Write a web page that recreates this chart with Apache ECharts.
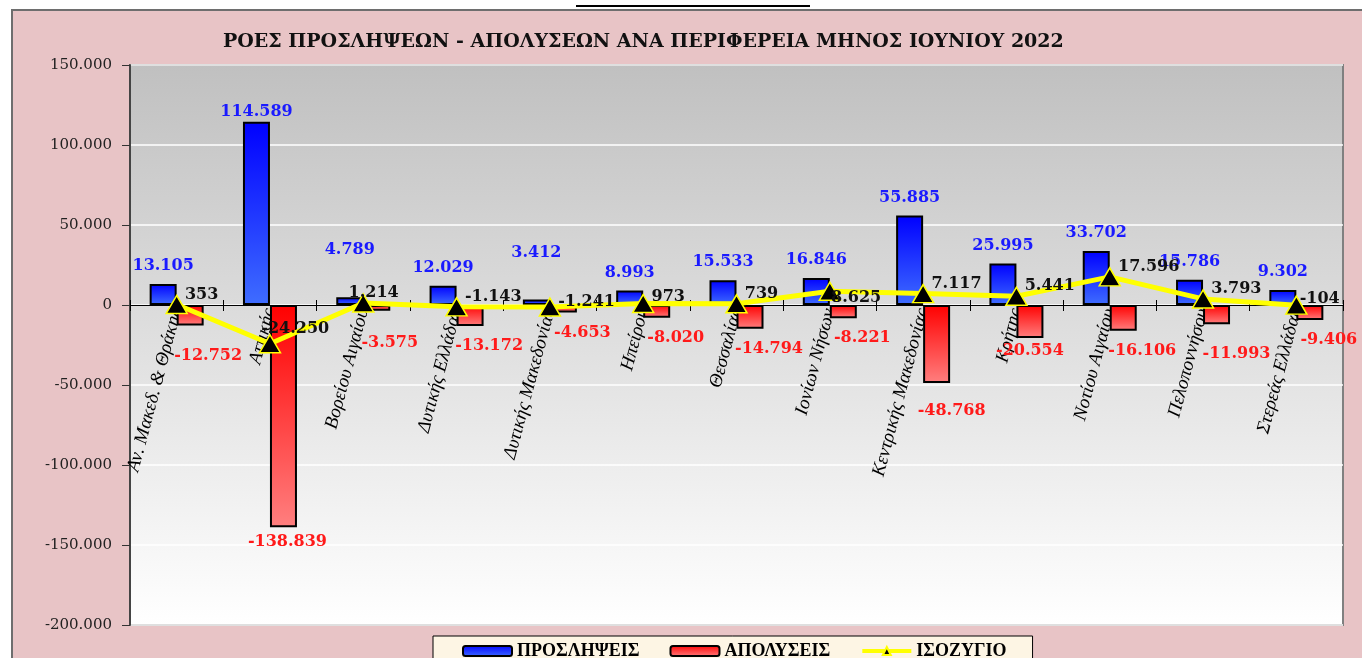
<!DOCTYPE html>
<html>
<head>
<meta charset="utf-8">
<title>Ροές προσλήψεων - απολύσεων</title>
<script src="https://cdn.jsdelivr.net/npm/echarts@6/dist/echarts.min.js"></script>
<style>
  html, body { margin: 0; padding: 0; background: #ffffff; }
  #chart { width: 1362px; height: 658px; }
</style>
</head>
<body>
<div id="chart"></div>
<script>
// περιφέρειες (κατηγορίες)
var regions = ['Αν. Μακεδ. & Θράκης', 'Αττικής', 'Βορείου Αιγαίου', 'Δυτικής Ελλάδας',
    'Δυτικής Μακεδονίας', 'Ηπείρου', 'Θεσσαλίας', 'Ιονίων Νήσων', 'Κεντρικής Μακεδονίας',
    'Κρήτης', 'Νοτίου Αιγαίου', 'Πελοποννήσου', 'Στερεάς Ελλάδας'];

var hires = [13105, 114589, 4789, 12029, 3412, 8993, 15533, 16846, 55885, 25995, 33702, 15786, 9302];
var fires = [-12752, -138839, -3575, -13172, -4653, -8020, -14794, -8221, -48768, -20554, -16106, -11993, -9406];
var balance = [353, -24250, 1214, -1143, -1241, 973, 739, 8625, 7117, 5441, 17596, 3793, -104];

var yTicks = [-200000, -150000, -100000, -50000, 0, 50000, 100000, 150000];

// θέσεις ετικετών που έχουν μετακινηθεί στο πρωτότυπο
var hireLabelShift = {1: [0, 8], 2: [0, -29], 4: [0, -29]};
var fireLabelShift = {0: [18, 10], 1: [4, -5], 2: [13, 12], 9: [0, -7], 8: [15, 8], 11: [20, 10]};
var balLabelShift = {2: [-23, 0], 4: [0, 5], 5: [0, 3], 7: [-7, 17], 12: [-5, 4], 1: [-17, -5]};

function fmt(v) {
    return String(v).replace(/\B(?=(\d{3})+(?!\d))/g, '.');
}

var serif = 'Liberation Serif';
var numFont = 'DejaVu Serif';

// ύψος περιοχής γραφήματος και θέση του μηδενός (για τον άξονα κατηγοριών)
var gridTop = 65, gridBottom = 33, chartH = 658;
var plotH = chartH - gridTop - gridBottom;
var zeroFromTop = plotH * yTicks[yTicks.length - 1] / (yTicks[yTicks.length - 1] - yTicks[0]);

myChart = echarts.init(document.getElementById('chart'));

option = {
    backgroundColor: '#ffffff',
    animation: false,
    graphic: [
        {
            type: 'rect', z: -100, silent: true,
            shape: {x: 12, y: 10, width: 1400, height: 700},
            style: {fill: '#e8c4c6', stroke: '#6e6e6e', lineWidth: 2}
        },
        {
            type: 'line', z: -100, silent: true,
            shape: {x1: 576, y1: 6, x2: 810, y2: 6},
            style: {stroke: '#000000', lineWidth: 2}
        }
    ],
    title: {
        text: 'ΡΟΕΣ ΠΡΟΣΛΗΨΕΩΝ - ΑΠΟΛΥΣΕΩΝ ΑΝΑ ΠΕΡΙΦΕΡΕΙΑ ΜΗΝΟΣ ΙΟΥΝΙΟΥ 2022',
        left: 218,
        top: 28,
        textStyle: {fontFamily: numFont, fontWeight: 'bold', fontSize: 19, color: '#111111'}
    },
    legend: {
        data: ['ΠΡΟΣΛΗΨΕΙΣ', 'ΑΠΟΛΥΣΕΙΣ', {name: 'ΙΣΟΖΥΓΙΟ', lineStyle: {width: 4}}],
        left: 433,
        top: 636,
        padding: [6, 26, 8, 29],
        itemGap: 30,
        itemWidth: 49,
        itemHeight: 10,
        backgroundColor: '#fdf5e4',
        borderColor: '#000000',
        borderWidth: 1,
        textStyle: {fontFamily: serif, fontWeight: 'bold', fontSize: 18, color: '#000000'}
    },
    grid: {
        left: 130,
        right: 19,
        top: gridTop,
        bottom: gridBottom,
        outerBoundsMode: 'none',
        containLabel: false,
        show: true,
        borderColor: '#808080',
        borderWidth: 2,
        backgroundColor: {
            type: 'linear', x: 0, y: 0, x2: 0, y2: 1,
            colorStops: [{offset: 0, color: '#c0c0c0'}, {offset: 1, color: '#ffffff'}]
        }
    },
    xAxis: [
        {
            type: 'category',
            data: regions,
            position: 'bottom',
            offset: -(plotH - zeroFromTop),
            axisLine: {onZero: false, lineStyle: {color: '#000000', width: 1}},
            axisTick: {show: true, interval: 0, length: 6, lineStyle: {color: '#000000'}},
            axisLabel: {
                interval: 0,
                rotate: 75,
                margin: 4,
                fontFamily: serif,
                fontStyle: 'italic',
                fontSize: 19,
                color: '#000000'
            }
        },
        {
            type: 'category',
            data: regions,
            position: 'top',
            offset: -zeroFromTop,
            axisLine: {show: false, onZero: false},
            axisTick: {show: true, interval: 0, length: 5, lineStyle: {color: '#000000'}},
            axisLabel: {show: false}
        }
    ],
    yAxis: {
        type: 'value',
        min: yTicks[0],
        max: yTicks[yTicks.length - 1],
        interval: 50000,
        axisLine: {show: true, lineStyle: {color: '#444444', width: 2}},
        axisTick: {show: true, length: 8, lineStyle: {color: '#333333'}},
        axisLabel: {
            margin: 18,
            fontFamily: numFont,
            fontSize: 15,
            color: '#222222',
            formatter: function (v) { return fmt(v); }
        },
        splitLine: {show: true, lineStyle: {color: '#ffffff', width: 1.5}}
    },
    series: [
        {
            name: 'ΠΡΟΣΛΗΨΕΙΣ',
            type: 'bar',
            barWidth: 27,
            barGap: '0%',
            itemStyle: {
                borderColor: '#000000',
                borderWidth: 2,
                color: {
                    type: 'linear', x: 0, y: 0, x2: 0, y2: 1,
                    colorStops: [{offset: 0, color: '#0000ff'}, {offset: 1, color: '#3f6dff'}]
                }
            },
            label: {
                show: true,
                position: 'top',
                distance: 10,
                fontFamily: numFont,
                fontWeight: 'bold',
                fontSize: 16,
                color: '#1a1aff',
                formatter: function (p) { return fmt(p.value); }
            },
            data: hires.map(function (v, i) {
                var d = {value: v};
                if (hireLabelShift[i]) d.label = {offset: hireLabelShift[i]};
                return d;
            })
        },
        {
            name: 'ΑΠΟΛΥΣΕΙΣ',
            type: 'bar',
            barWidth: 27,
            barGap: '0%',
            itemStyle: {
                borderColor: '#000000',
                borderWidth: 2,
                color: {
                    type: 'linear', x: 0, y: 0, x2: 0, y2: 1,
                    colorStops: [{offset: 0, color: '#ff0000'}, {offset: 1, color: '#ff7f7f'}]
                }
            },
            label: {
                show: true,
                position: 'bottom',
                distance: 12,
                offset: [19, 0],
                fontFamily: numFont,
                fontWeight: 'bold',
                fontSize: 16,
                color: '#ff1a1a',
                formatter: function (p) { return fmt(p.value); }
            },
            data: fires.map(function (v, i) {
                var d = {value: v};
                if (fireLabelShift[i]) d.label = {offset: fireLabelShift[i]};
                return d;
            })
        },
        {
            name: 'ΙΣΟΖΥΓΙΟ',
            type: 'line',
            z: 5,
            symbol: 'triangle',
            symbolSize: [21, 18],
            lineStyle: {color: '#ffff00', width: 5},
            itemStyle: {color: '#000000', borderColor: '#ffff00', borderWidth: 1.5},
            label: {
                show: true,
                position: 'right',
                offset: [-8, -10],
                fontFamily: numFont,
                fontWeight: 'bold',
                fontSize: 16,
                color: '#111111',
                formatter: function (p) { return fmt(p.value); }
            },
            data: balance.map(function (v, i) {
                var d = {value: v};
                if (balLabelShift[i]) {
                    d.label = {offset: [-8 + balLabelShift[i][0], -10 + balLabelShift[i][1]]};
                }
                return d;
            })
        }
    ]
};

myChart.setOption(option);
</script>
</body>
</html>
